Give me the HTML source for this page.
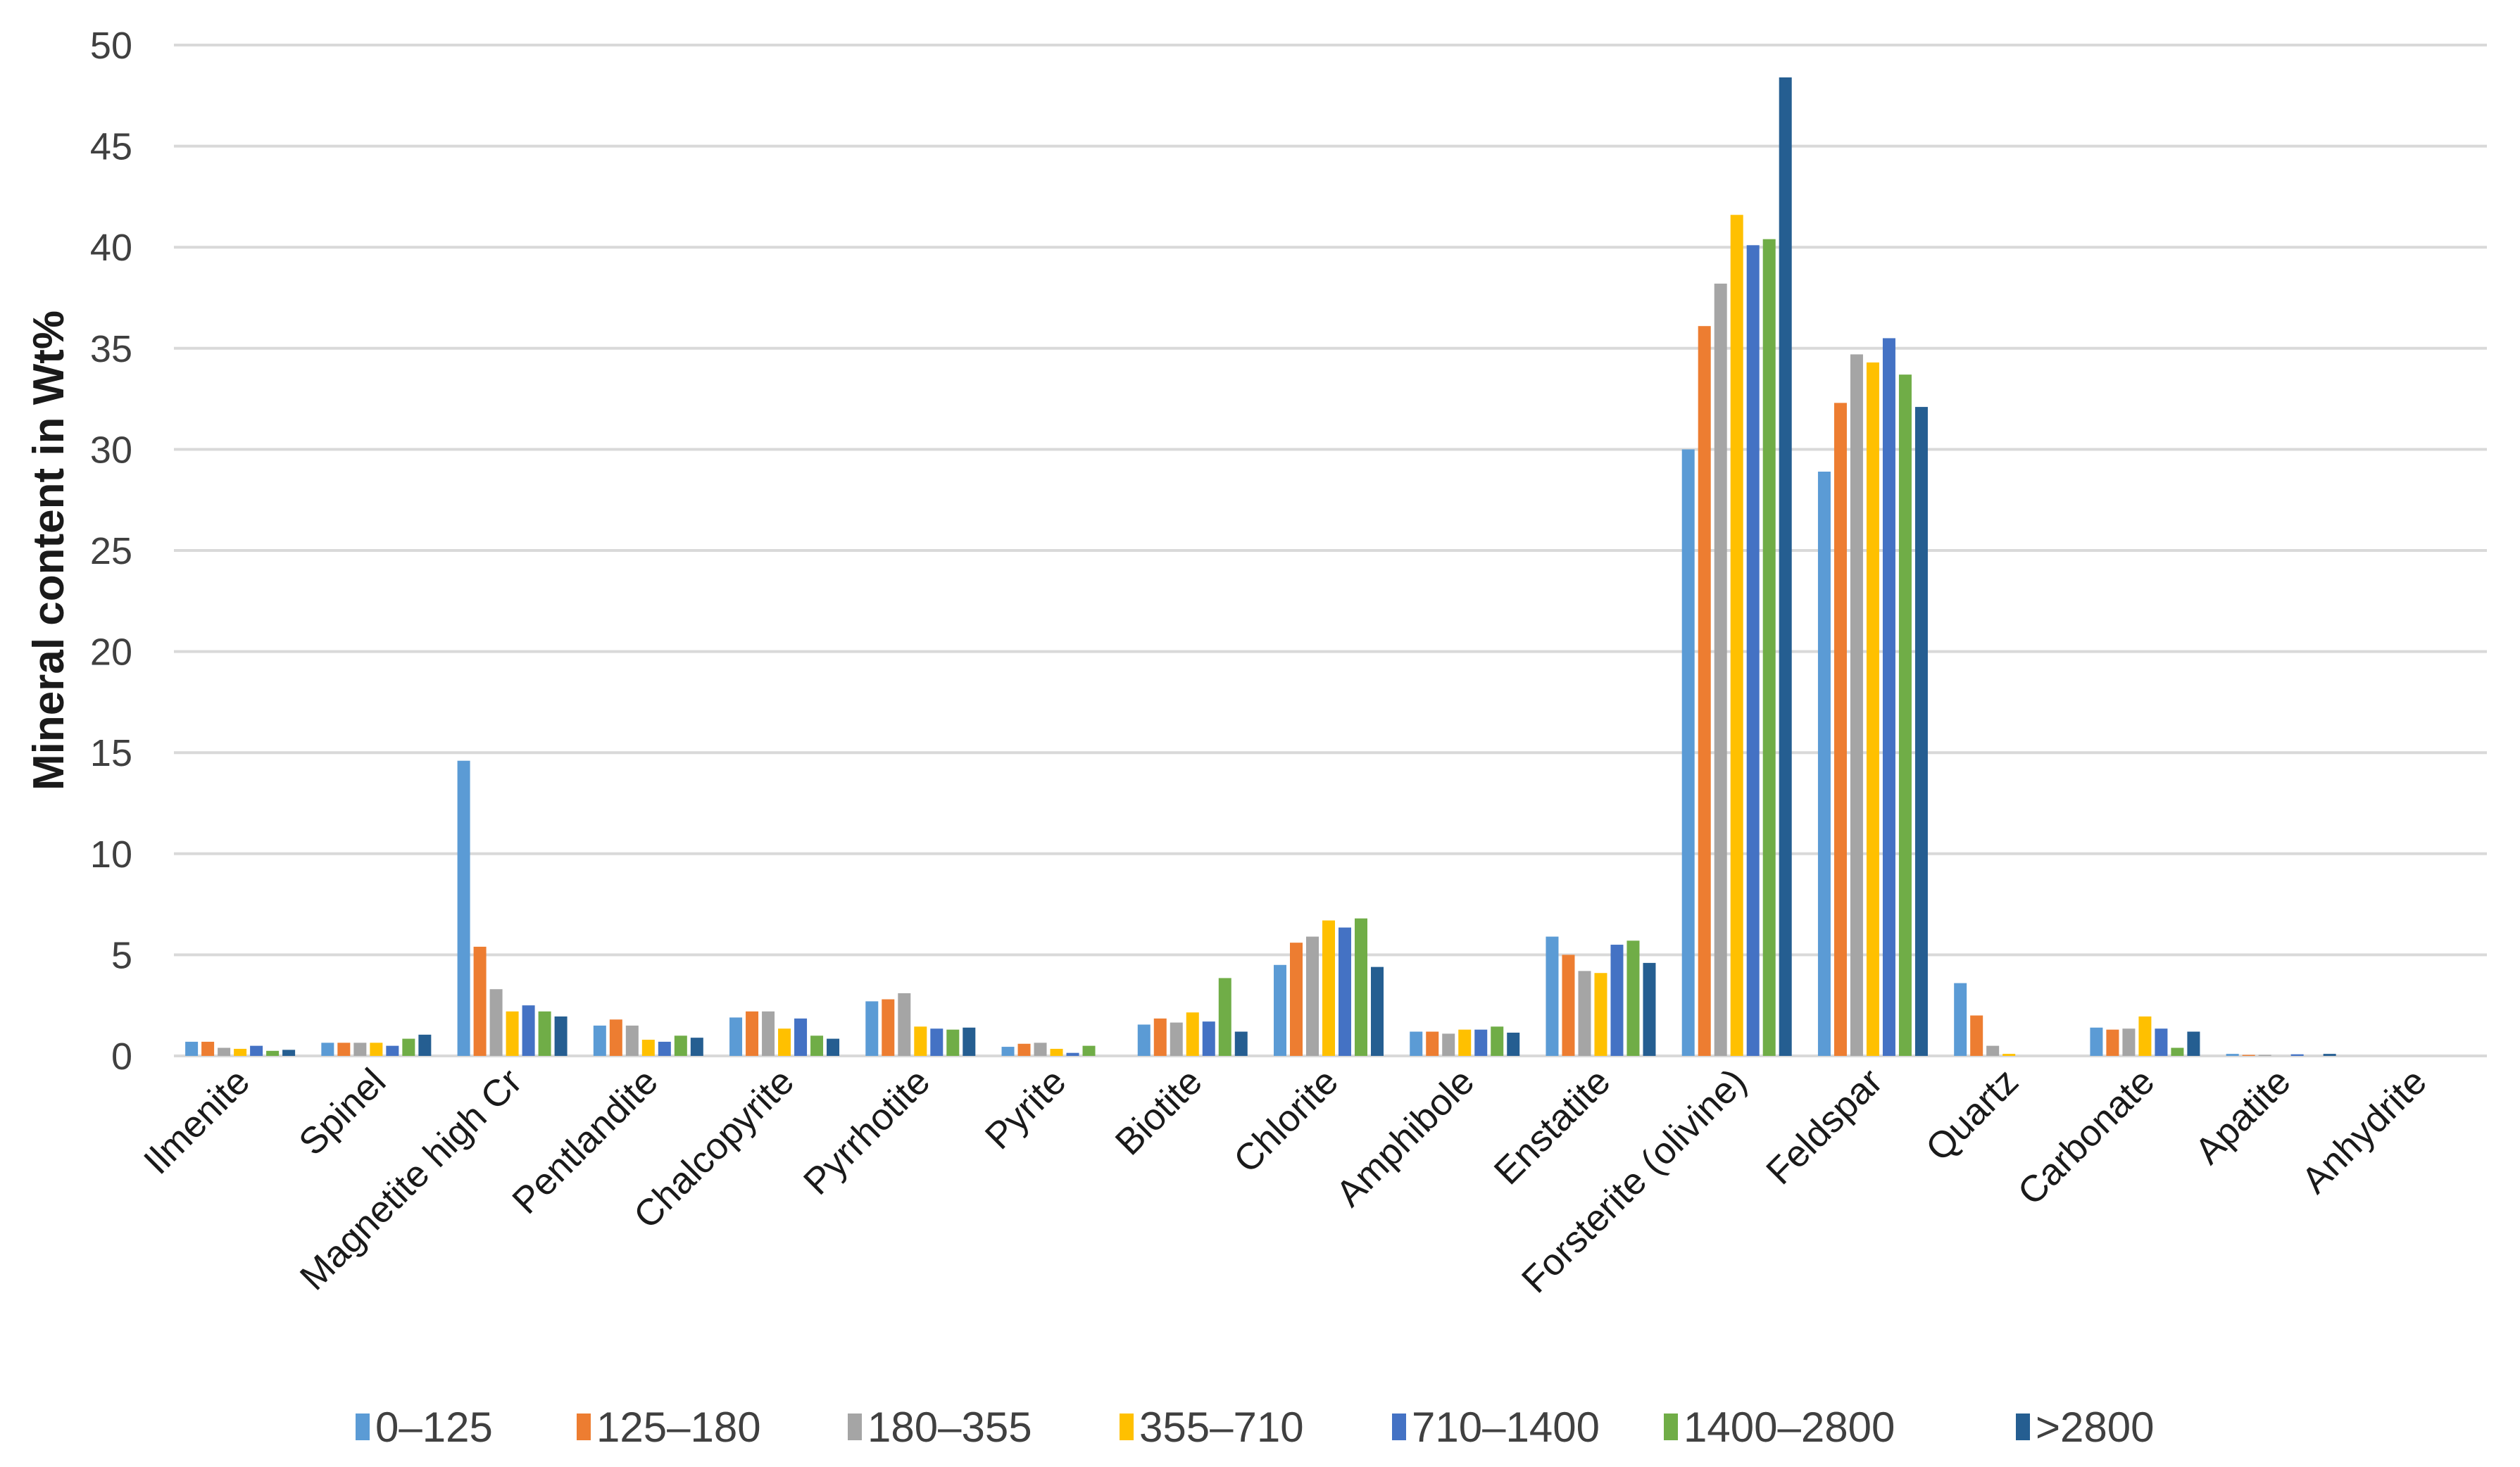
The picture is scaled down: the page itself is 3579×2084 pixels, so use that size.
<!DOCTYPE html>
<html><head><meta charset="utf-8"><style>
body{margin:0;background:#fff;}
svg{display:block;font-family:"Liberation Sans",sans-serif;}
</style></head><body>
<svg id="chart" width="3579" height="2084" viewBox="0 0 3579 2084" xmlns="http://www.w3.org/2000/svg">
<rect width="3579" height="2084" fill="#fff"/>
<g id="grid"></g>
<g id="yticks"></g>
<g id="bars"></g>
<g id="xlabels"></g>
<text transform="translate(90,782) rotate(-90)" text-anchor="middle" font-size="62" font-weight="bold" fill="#1a1a1a">Mineral content in Wt%</text>
<g id="legend"></g>
</svg>
<script>
const categories = ["Ilmenite","Spinel","Magnetite high Cr","Pentlandite","Chalcopyrite","Pyrrhotite","Pyrite","Biotite","Chlorite","Amphibole","Enstatite","Forsterite (olivine)","Feldspar","Quartz","Carbonate","Apatite","Anhydrite"];
const seriesNames = ["0–125","125–180","180–355","355–710","710–1400","1400–2800",">2800"];
const s0 = [0.7,0.65,14.6,1.5,1.9,2.7,0.45,1.55,4.5,1.2,5.9,30.0,28.9,3.6,1.4,0.1,0];
const s1 = [0.7,0.65,5.4,1.8,2.2,2.8,0.6,1.85,5.6,1.2,5.0,36.1,32.3,2.0,1.3,0.05,0];
const s2 = [0.4,0.65,3.3,1.5,2.2,3.1,0.65,1.65,5.9,1.1,4.2,38.2,34.7,0.5,1.35,0.05,0];
const s3 = [0.35,0.65,2.2,0.8,1.35,1.45,0.35,2.15,6.7,1.3,4.1,41.6,34.3,0.1,1.95,0,0];
const s4 = [0.5,0.5,2.5,0.7,1.85,1.35,0.15,1.7,6.35,1.3,5.5,40.1,35.5,0,1.35,0.08,0];
const s5 = [0.25,0.85,2.2,1.0,1.0,1.3,0.5,3.85,6.8,1.45,5.7,40.4,33.7,0,0.4,0,0];
const s6 = [0.3,1.05,1.95,0.9,0.85,1.4,0,1.2,4.4,1.15,4.6,48.4,32.1,0,1.2,0.1,0];
const yTicks = [0,5,10,15,20,25,30,35,40,45,50];
const colors = ["#5b9bd5","#ed7d31","#a5a5a5","#ffc000","#4472c4","#70ad47","#255e91"];
const series = [s0,s1,s2,s3,s4,s5,s6];
const NS="http://www.w3.org/2000/svg";
const X0=247,X1=3532,Y0=1500,Y1=64,YMAX=50;
const catW=(X1-X0)/categories.length;
function y(v){return Y0-(v/YMAX)*(Y0-Y1);}
function xCat(i){return X0+i*catW;}
function mk(tag,attrs,parent){const e=document.createElementNS(NS,tag);for(const k in attrs)e.setAttribute(k,attrs[k]);parent.appendChild(e);return e;}
const grid=document.getElementById('grid'),yt=document.getElementById('yticks');
yTicks.forEach(t=>{
  const l=mk('line',{x1:X0,x2:X1,y1:y(t),y2:y(t),stroke:'#d9d9d9','stroke-width':4},grid);
  
  
  const tx=mk('text',{x:188,y:y(t)+19,'text-anchor':'end','font-size':54,fill:'#404040'},yt);
  tx.textContent=t;
  
  
});
const bars=document.getElementById('bars');
const bw=18,step=23,off=(catW-step*7)/2;
categories.forEach((c,i)=>{
  series.forEach((s,j)=>{
    const v=s[i];
    const r=mk('rect',{x:xCat(i)+off+j*step,y:y(v),width:bw,height:Math.max(0,Y0-y(v)),fill:colors[j]},bars);
    
    
  });
});
const xl=document.getElementById('xlabels');
categories.forEach((c,i)=>{
  const cx=xCat(i)+catW/2+14, cy=1540;
  const t=mk('text',{x:cx,y:cy,'text-anchor':'end','font-size':53,fill:'#1a1a1a',transform:`rotate(-45 ${cx} ${cy})`},xl);
  t.textContent=c;
  
  
});
const lg=document.getElementById('legend');
const lx=[505,819,1204,1590,1977,2363,2863];
seriesNames.forEach((n,j)=>{
  const g=mk('g',{},lg);
  
  
  mk('rect',{x:lx[j],y:2008,width:20,height:38,fill:colors[j]},g);
  const t=mk('text',{x:lx[j]+28,y:2048,'font-size':60,fill:'#404040'},g);
  t.textContent=n;
});
</script>
</body></html>
